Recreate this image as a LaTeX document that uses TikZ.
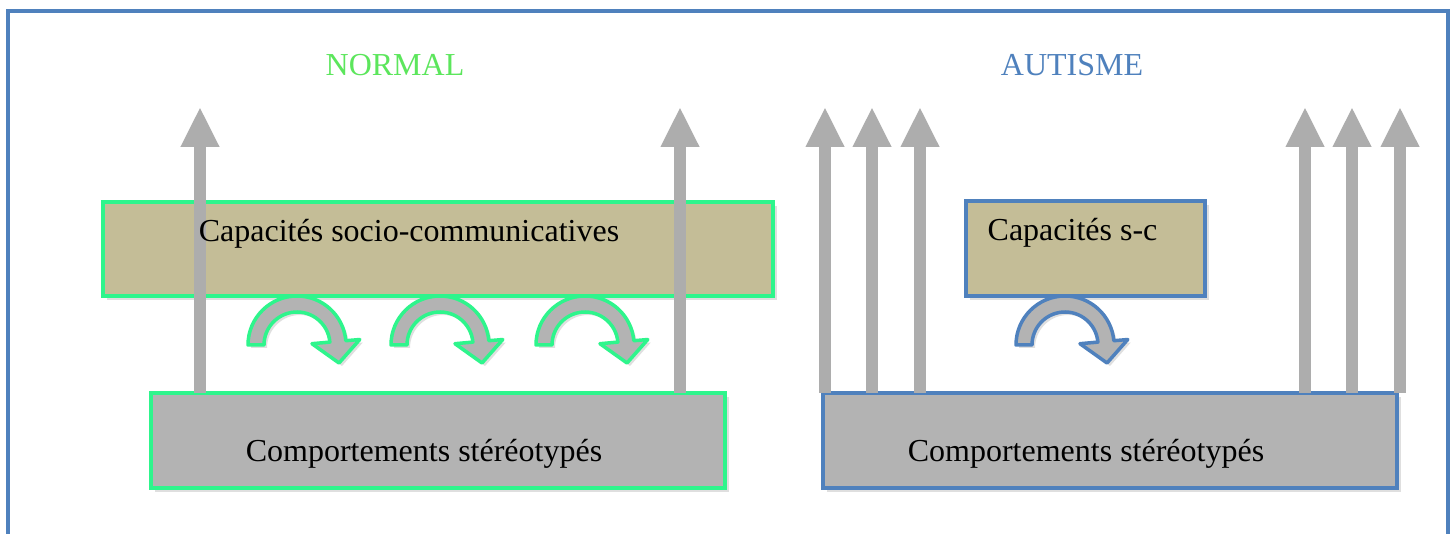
\documentclass[tikz,border=0pt]{standalone}
\usepackage{fontspec}
\setmainfont{Liberation Serif}
\usetikzlibrary{arrows.meta,shadows}

\definecolor{frameblue}{HTML}{4F81BD}
\definecolor{normalgreen}{HTML}{2EF58C}
\definecolor{titlegreen}{HTML}{5CE65C}
\definecolor{khaki}{HTML}{C4BD97}
\definecolor{boxgray}{HTML}{B3B3B3}
\definecolor{arrowgray}{HTML}{ADADAD}

\tikzset{
  panel/.style={draw=#1, line width=3.5pt, anchor=north west, inner sep=0pt,
    outer sep=0pt,
    drop shadow={shadow xshift=4pt, shadow yshift=-4pt, opacity=.25}},
  boxtext/.style={font=\fontsize{32}{38}\selectfont, inner sep=0pt},
  title/.style={font=\fontsize{32}{38}\selectfont, text=#1},
  up arrow/.style={draw=arrowgray, line width=12pt,
    -{Triangle[width=36pt, length=40pt]}},
  turn arrow/.style={draw=#1, fill=boxgray, line width=3.5pt, line join=round,
    drop shadow={shadow xshift=3pt, shadow yshift=-3pt, opacity=.25}}
}

% curved arrow between the two boxes: centre x, centre y, border colour
\newcommand\turnarrow[3]{%
  \draw[turn arrow=#3, shift={(#1,#2)}]
    (180:49) arc[start angle=180, end angle=5, radius=49]
    -- (5:63) -- (42,-18) -- (5:15) -- (5:33)
    arc[start angle=5, end angle=180, radius=33] -- cycle;}

\begin{document}
\begin{tikzpicture}[x=1pt, y=1pt]
  \useasboundingbox (0,0) rectangle (1455,534);
  \fill[white] (0,0) rectangle (1455,534);

  % outer frame, open at the bottom
  \draw[frameblue, line width=4pt] (8,-10) -- (8,523) -- (1448,523) -- (1448,-10);

  % titles
  \node[title=titlegreen] (normal) at (395,469) {NORMAL};
  \node[title=frameblue] (autisme) at (1072,469) {AUTISME};

  % normal side
  \node[panel=normalgreen, fill=khaki, minimum width=670pt, minimum height=94pt]
    (capsoc) at (103,332) {};
  \node[panel=normalgreen, fill=boxgray, minimum width=574pt, minimum height=95pt]
    (compnorm) at (151,141) {};

  % autism side
  \node[panel=frameblue, fill=khaki, minimum width=239pt, minimum height=95pt]
    (capsc) at (966,333) {};
  \node[panel=frameblue, fill=boxgray, minimum width=574pt, minimum height=95pt]
    (compaut) at (823,141) {};

  % straight arrows from the behaviours upwards
  \foreach \x [count=\i] in {200,680} {
    \coordinate (ntip\i) at (\x,427);
    \draw[up arrow] (compnorm.north -| ntip\i) -- (ntip\i);
  }
  \foreach \x [count=\i] in {825,872,920,1305,1352,1400} {
    \coordinate (atip\i) at (\x,427);
    \draw[up arrow] (compaut.north -| atip\i) -- (atip\i);
  }

  % box texts, on top of the arrows
  \node[boxtext] (capsoc text) at ([xshift=-29pt, yshift=-32pt]capsoc.north)
    {Capacités socio-communicatives};
  \node[boxtext] (compnorm text) at ([xshift=-14pt, yshift=-13pt]compnorm.center)
    {Comportements stéréotypés};
  \node[boxtext] (capsc text) at ([xshift=-13pt, yshift=-32pt]capsc.north)
    {Capacités s-c};
  \node[boxtext] (compaut text) at ([xshift=-24pt, yshift=-13pt]compaut.center)
    {Comportements stéréotypés};

  % curved arrows under the capacities
  \turnarrow{297}{189}{normalgreen}
  \turnarrow{440}{189}{normalgreen}
  \turnarrow{585}{189}{normalgreen}
  \turnarrow{1065}{189}{frameblue}
\end{tikzpicture}
\end{document}
